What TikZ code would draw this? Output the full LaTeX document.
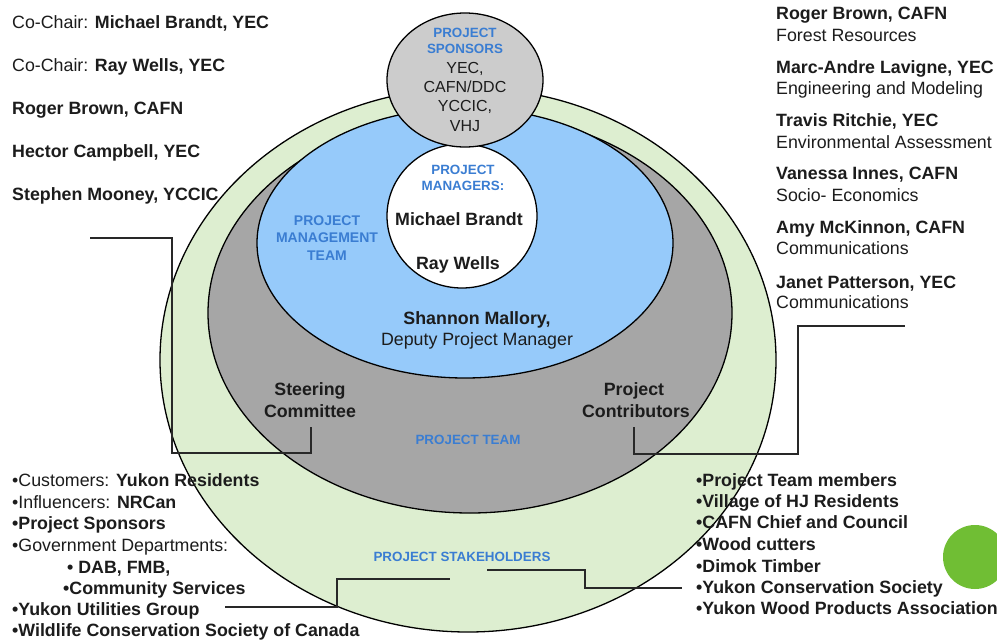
\documentclass[tikz,border=0pt]{standalone}
\usepackage{fontspec}
\setmainfont{Liberation Sans}
\usetikzlibrary{shapes.geometric}
\definecolor{ringgreen}{RGB}{221,238,208}
\definecolor{teamgray}{RGB}{166,166,166}
\definecolor{mgmtblue}{RGB}{150,202,250}
\definecolor{sponsgray}{RGB}{204,204,204}
\definecolor{lblblue}{RGB}{58,125,210}
\definecolor{dotgreen}{RGB}{112,190,52}
\definecolor{ink}{RGB}{28,28,28}
\definecolor{wire}{RGB}{40,40,40}
\tikzset{
  ring/.style={ellipse, draw=black, line width=1.3pt, inner sep=0pt},
  conn/.style={draw=wire, line width=1.4pt},
  big/.style={inner sep=0pt, text height=12.7pt, text depth=0pt, text=ink, font=\fontsize{17.8}{21}\selectfont},
  bigb/.style={big, font=\fontsize{17.8}{21}\selectfont\bfseries},
  bigl/.style={big, anchor=west},
  blab/.style={inner sep=0pt, text height=9.6pt, text depth=0pt, text=lblblue, font=\fontsize{13.4}{16}\selectfont\bfseries},
  spl/.style={inner sep=0pt, text height=11.5pt, text depth=0pt, text=ink, font=\fontsize{16}{19}\selectfont},
}
\begin{document}
\begin{tikzpicture}[x=1pt,y=-1pt]
\useasboundingbox (0,0) rectangle (997,640);
\clip (0,0) rectangle (997,640);
\fill[white] (0,0) rectangle (997,640);

% rings
\node[ring, fill=ringgreen, minimum width=616pt, minimum height=544pt] (stake) at (468,360) {};
\node[ring, fill=teamgray, minimum width=524pt, minimum height=400pt] (team) at (470,313) {};
\node[ring, fill=mgmtblue, minimum width=416pt, minimum height=270pt] (mgmt) at (465,243) {};
\node[ring, fill=white, minimum width=150pt, minimum height=144pt] (mgrs) at (462,216) {};
\node[ring, fill=sponsgray, minimum width=156pt, minimum height=134pt] (spons) at (465,80) {};
\node[circle, fill=dotgreen, minimum size=64pt, inner sep=0pt] (dot) at (975,557) {};

% connectors
\coordinate (scL) at (90,238);
\coordinate (scR) at (311,427);
\draw[conn] (scL) -| (172,453) -| (scR);
\coordinate (pcA) at (634,427);
\coordinate (pcB) at (905,326);
\draw[conn] (pcA) |- (798,454) |- (pcB);
\coordinate (slA) at (225,607);
\coordinate (slB) at (450,579);
\draw[conn] (slA) -| (337,579) -- (slB);
\coordinate (srA) at (487,570);
\coordinate (srB) at (682,588);
\draw[conn] (srA) -| (585,588) -- (srB);

% sponsors
\node[blab] (sp1) at (465,33) {PROJECT};
\node[blab] (sp2) at (465,49) {SPONSORS};
\node[spl] (sp3) at (465,68) {YEC,};
\node[spl] (sp4) at (465,87) {CAFN/DDC};
\node[spl] (sp5) at (465,106) {YCCIC,};
\node[spl] (sp6) at (465,126) {VHJ};

% managers
\node[blab] (pm1) at (463,170) {PROJECT};
\node[blab] (pm2) at (463,186) {MANAGERS:};
\node[bigb] (pm3) at (459,219) {Michael Brandt};
\node[bigb] (pm4) at (458,263) {Ray Wells};

% management team
\node[blab, font=\fontsize{14}{17}\selectfont\bfseries] (mt1) at (327,221) {PROJECT};
\node[blab, font=\fontsize{14}{17}\selectfont\bfseries] (mt2) at (327,238) {MANAGEMENT};
\node[blab, font=\fontsize{14}{17}\selectfont\bfseries] (mt3) at (327,256) {TEAM};
\node[bigb] (dm1) at (477,318) {Shannon Mallory,};
\node[big] (dm2) at (477,339) {Deputy Project Manager};

% team
\node[bigb] (st1) at (310,389) {Steering};
\node[bigb] (st2) at (310,411) {Committee};
\node[bigb] (pc1) at (634,389) {Project};
\node[bigb] (pc2) at (636,411) {Contributors};
\node[blab] (ptm) at (468,440) {PROJECT TEAM};
\node[blab] (psh) at (462,557) {PROJECT STAKEHOLDERS};

% top left
\node[bigl] (tl1) at (12,22) {Co-Chair: \textbf{Michael Brandt, YEC}};
\node[bigl] (tl2) at (12,65) {Co-Chair: \textbf{Ray Wells, YEC}};
\node[bigl] (tl3) at (12,108) {\textbf{Roger Brown, CAFN}};
\node[bigl] (tl4) at (12,151) {\textbf{Hector Campbell, YEC}};
\node[bigl] (tl5) at (12,194) {\textbf{Stephen Mooney, YCCIC}};

% top right
\node[bigl] (tr1) at (776,13) {\textbf{Roger Brown, CAFN}};
\node[bigl] (tr2) at (776,35) {Forest Resources};
\node[bigl] (tr3) at (776,67) {\textbf{Marc-Andre Lavigne, YEC}};
\node[bigl] (tr4) at (776,88) {Engineering and Modeling};
\node[bigl] (tr5) at (776,120) {\textbf{Travis Ritchie, YEC}};
\node[bigl] (tr6) at (776,142) {Environmental Assessment};
\node[bigl] (tr7) at (776,173) {\textbf{Vanessa Innes, CAFN}};
\node[bigl] (tr8) at (776,195) {Socio- Economics};
\node[bigl] (tr9) at (776,227) {\textbf{Amy McKinnon, CAFN}};
\node[bigl] (tr10) at (776,248) {Communications};
\node[bigl] (tr11) at (776,282) {\textbf{Janet Patterson, YEC}};
\node[bigl] (tr12) at (776,302) {Communications};

% bottom left
\node[bigl] (bl1) at (12,480) {•Customers: \textbf{Yukon Residents}};
\node[bigl] (bl2) at (12,502) {•Influencers: \textbf{NRCan}};
\node[bigl] (bl3) at (12,523) {\textbf{•Project Sponsors}};
\node[bigl] (bl4) at (12,545) {•Government Departments:};
\node[bigl] (bl5) at (67,567) {\textbf{• DAB, FMB,}};
\node[bigl] (bl6) at (63,588) {\textbf{•Community Services}};
\node[bigl] (bl7) at (12,609) {\textbf{•Yukon Utilities Group}};
\node[bigl] (bl8) at (12,630) {\textbf{•Wildlife Conservation Society of Canada}};

% bottom right
\node[bigl] (br1) at (696,480) {\textbf{•Project Team members}};
\node[bigl] (br2) at (696,501) {\textbf{•Village of HJ Residents}};
\node[bigl] (br3) at (696,522) {\textbf{•CAFN Chief and Council}};
\node[bigl] (br4) at (696,544) {\textbf{•Wood cutters}};
\node[bigl] (br5) at (696,566) {\textbf{•Dimok Timber}};
\node[bigl] (br6) at (696,587) {\textbf{•Yukon Conservation Society}};
\node[bigl] (br7) at (696,608) {\textbf{•Yukon Wood Products Association}};
\end{tikzpicture}
\end{document}
